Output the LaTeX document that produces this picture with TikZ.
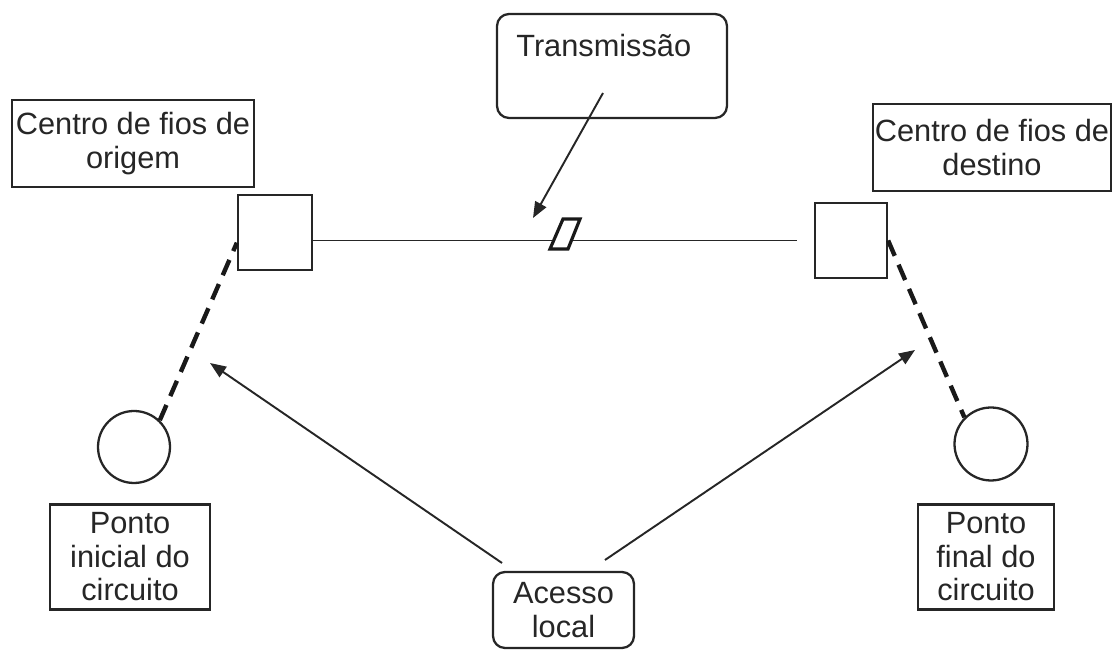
\documentclass[tikz,border=0pt]{standalone}
\usepackage{fontspec}
\setmainfont{Liberation Sans}
\usetikzlibrary{calc}
\usetikzlibrary{arrows.meta}
\usetikzlibrary{positioning}

\tikzset{
  ink/.style={draw=black!85, line width=1.3pt},
  txtbox/.style={ink, inner sep=0pt, align=center, text=black!85},
  roundbox/.style={txtbox, rounded corners=0.24cm},
  sqnode/.style={ink, inner sep=0pt},
  pt/.style={ink, circle, inner sep=0pt},
  arr/.style={black!85, line width=1.1pt, -{Triangle[length=0.32cm, width=0.25cm]}},
  dashline/.style={black!90, line width=2.5pt, dash pattern=on 9.5pt off 5.5pt}
}

\begin{document}
\begin{tikzpicture} [x=0.02cm, y=-0.02cm, font=\fontsize{17.5}{19.1}\selectfont]

\useasboundingbox (0,0) rectangle (1113,651);

\node[txtbox, minimum width=4.84cm, minimum height=1.74cm] (orig) at (133,143.5) {Centro de fios de\\origem};
\node[txtbox, minimum width=4.76cm, minimum height=1.74cm] (dest) at (992,147.5) {Centro de fios de\\destino};
\node[roundbox, minimum width=4.6cm, minimum height=2.08cm] (trans) at (612,66) {};
\node[anchor=base west, inner sep=0pt, text=black!85] (translbl) at (516,57) {Transmissão};

\node[sqnode, minimum width=1.48cm, minimum height=1.5cm] (sq1) at (275,232.5) {};
\node[sqnode, minimum width=1.44cm, minimum height=1.5cm] (sq2) at (851,240.5) {};
\node[pt, minimum size=1.44cm] (c1) at (134,447) {};
\node[pt, minimum size=1.46cm] (c2) at (991,444) {};

\node[txtbox, minimum width=3.2cm, minimum height=2.1cm] (pini) at (130,557) {Ponto\\inicial do\\circuito};
\node[txtbox, minimum width=2.72cm, minimum height=2.1cm] (pfin) at (986,557) {Ponto\\final do\\circuito};
\node[roundbox, minimum width=2.82cm, minimum height=1.52cm] (acc) at (563.5,610) {Acesso\\local};

\draw[black!85, line width=1.1pt, shorten >=0.34cm] (sq1.east |- sq2.west) -- (sq2.west);
\draw[black!90, line width=1.8pt, fill=white] (550,249) -- (568,249) -- (580,219) -- (563,219) -- cycle;

\draw[dashline] (c1.46) -- (sq1.195);
\draw[dashline] (sq2.east) -- (c2.135);

\coordinate (transtail) at (603,93);
\coordinate (transtip) at (533,218);
\coordinate (tailL) at (502,563);
\coordinate (tipL) at (210,363);
\coordinate (tailR) at (605,560);
\coordinate (tipR) at (915,350);

\draw[arr] (transtail) -- (transtip);
\draw[arr] (tailL) -- (tipL);
\draw[arr] (tailR) -- (tipR);

\end{tikzpicture}
\end{document}
